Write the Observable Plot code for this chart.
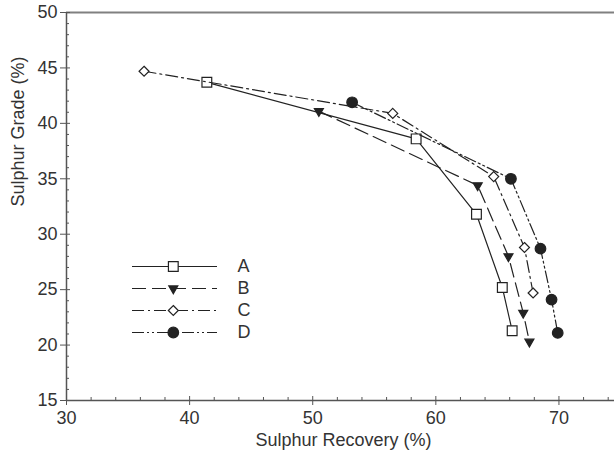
<!DOCTYPE html>
<html>
<head>
<meta charset="utf-8">
<script src="https://cdn.jsdelivr.net/npm/d3@7"></script>
<script src="https://cdn.jsdelivr.net/npm/@observablehq/plot@0.6"></script>
<style>
  html, body { margin: 0; padding: 0; background: white; overflow: hidden; }
  #wrap { position: relative; width: 614px; height: 456px; overflow: hidden; }
  #legend { position: absolute; left: 120px; top: 250px; }
</style>
</head>
<body>
<div id="wrap"><div id="chart"></div><div id="legend"></div></div>
<script>
// ---- data ----
const categories = ["A", "B", "C", "D"];
const recoveryA = [41.4, 58.4, 63.3, 65.4, 66.2];
const gradeA    = [43.7, 38.6, 31.8, 25.2, 21.3];
const recoveryB = [50.5, 63.4, 65.9, 67.1, 67.6];
const gradeB    = [41.1, 34.4, 28.0, 22.9, 20.3];
const recoveryC = [36.3, 56.5, 64.7, 67.2, 67.9];
const gradeC    = [44.7, 40.9, 35.2, 28.8, 24.7];
const recoveryD = [53.2, 66.1, 68.5, 69.4, 69.9];
const gradeD    = [41.9, 35.0, 28.7, 24.1, 21.1];
const xTicks = [30, 40, 50, 60, 70];
const yTicks = [15, 20, 25, 30, 35, 40, 45, 50];
const xMinor = d3.range(30, 75.01, 2).filter(v => !xTicks.includes(v));
const yMinor = d3.range(15, 50.01, 1).filter(v => !yTicks.includes(v));
const xLabel = "Sulphur Recovery (%)";
const yLabel = "Sulphur Grade (%)";

const recovery = {A: recoveryA, B: recoveryB, C: recoveryC, D: recoveryD};
const grade = {A: gradeA, B: gradeB, C: gradeC, D: gradeD};
const rows = categories.flatMap(s => recovery[s].map((x, i) => ({series: s, x, y: grade[s][i]})));

// ---- styles ----
const ink = "#222";
const styles = {
  A: {dash: null, symbol: "square", fill: "white", r: 5.5, rotate: 0},
  B: {dash: "14,6", symbol: "triangle2", fill: ink, r: 4.3, rotate: 180},
  C: {dash: "12,4,2,4", symbol: "diamond2", fill: "white", r: 4.5, rotate: 0},
  D: {dash: "12,3,2,3,2,3", symbol: "circle", fill: ink, r: 5.3, rotate: 0}
};

const font = {fontFamily: "'Liberation Sans', Arial, Helvetica, sans-serif", fontSize: "18px"};
const W = 620, H = 456, mL = 66, mT = 12, mR = 0, mB = 56;
const fw = W - mL - mR, fh = H - mT - mB;

const seriesMarks = categories.flatMap(s => {
  const st = styles[s];
  const d = rows.filter(r => r.series === s);
  return [
    Plot.line(d, {x: "x", y: "y", stroke: ink, strokeWidth: 1.2, strokeDasharray: st.dash}),
    Plot.dot(d, {x: "x", y: "y", symbol: st.symbol, r: st.r, fill: st.fill, stroke: ink, strokeWidth: 1.2, rotate: st.rotate})
  ];
});

const chart = Plot.plot({
  width: W, height: H,
  marginLeft: mL, marginTop: mT, marginRight: mR, marginBottom: mB,
  style: {...font, color: "#333", background: "white", maxWidth: "none", overflow: "visible"},
  x: {domain: [30, 75]},
  y: {domain: [15, 50]},
  marks: [
    Plot.ruleY([50], {stroke: "#808080", strokeWidth: 2}),
    Plot.ruleX([30], {stroke: "#555", strokeWidth: 1.5}),
    Plot.ruleY([15], {stroke: "#555", strokeWidth: 1.5}),
    Plot.ruleX(xMinor, {x: d => d, insetTop: fh - 3, stroke: "#555"}),
    Plot.ruleX(xTicks, {x: d => d, insetTop: fh - 4, stroke: "#555"}),
    Plot.ruleY(yMinor, {y: d => d, insetRight: fw - 3, stroke: "#555"}),
    Plot.ruleY(yTicks, {y: d => d, insetRight: fw - 4, stroke: "#555"}),
    Plot.axisX({ticks: xTicks, tickSize: 5, tickPadding: 6, label: null, stroke: "#555", fill: "#333"}),
    Plot.axisY({ticks: yTicks, tickSize: 6, tickPadding: 3, label: null, stroke: "#555", fill: "#333"}),
    Plot.text([xLabel], {frameAnchor: "bottom", dy: 45, text: d => d, fill: "#333"}),
    Plot.text([yLabel], {frameAnchor: "left", dx: -48, rotate: -90, text: d => d, fill: "#333"}),
    ...seriesMarks
  ]
});
document.getElementById("chart").appendChild(chart);

// ---- legend (separate small Plot overlaid on the chart) ----
const legendMarks = categories.flatMap(s => {
  const st = styles[s];
  return [
    Plot.ruleY([s], {y: d => d, x1: 0, x2: 1, stroke: ink, strokeWidth: 1.2, strokeDasharray: st.dash}),
    Plot.dot([s], {x: 0.48, y: d => d, symbol: st.symbol, r: st.r, fill: st.fill, stroke: ink, strokeWidth: 1.2, rotate: st.rotate})
  ];
});
const legend = Plot.plot({
  width: 160, height: 100,
  marginLeft: 12, marginRight: 63, marginTop: 15, marginBottom: 17,
  style: {...font, color: "#333", background: "transparent", maxWidth: "none", overflow: "visible"},
  x: {domain: [0, 1], axis: null},
  y: {type: "point", domain: categories, padding: 0, axis: null},
  marks: [
    ...legendMarks,
    Plot.text(categories, {x: 1.235, y: d => d, text: d => d, textAnchor: "start", fill: "#333"})
  ]
});
document.getElementById("legend").appendChild(legend);
</script>
</body>
</html>
